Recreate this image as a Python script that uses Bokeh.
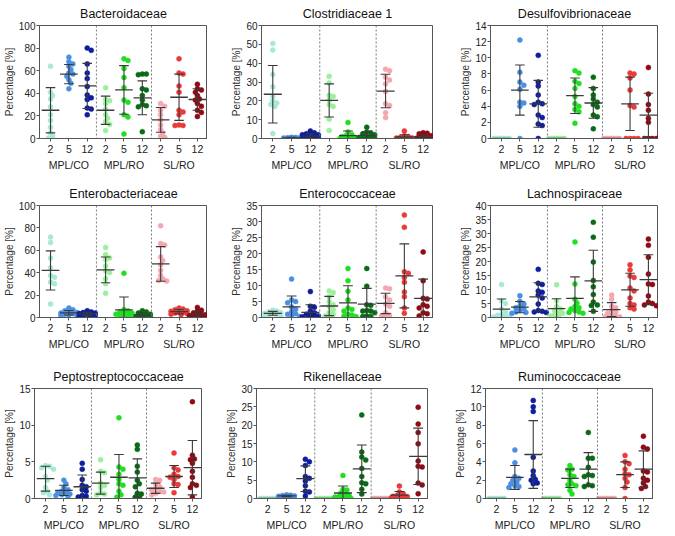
import numpy as np
from bokeh.plotting import figure
from bokeh.layouts import column, row
from bokeh.models import Range1d, FixedTicker, SingleIntervalTicker, Span, Spacer
from bokeh.embed import file_html
from bokeh.resources import INLINE

# ---------------- data ----------------
TIME_LABELS = ["2", "5", "12"]
GROUP_LABELS = ["MPL/CO", "MPL/RO", "SL/RO"]
SERIES_COLORS = ["#a8e8d6", "#4a8fe2", "#0d1f9e",
                 "#9cef9c", "#22de22", "#0a6b16",
                 "#f5a6ae", "#ea3a3a", "#8e0b14"]

FAMILIES = ["Bacteroidaceae", "Clostridiaceae 1", "Desulfovibrionaceae",
            "Enterobacteriaceae", "Enterococcaceae", "Lachnospiraceae",
            "Peptostreptococcaceae", "Rikenellaceae", "Ruminococcaceae"]
Y_MAX = [100, 60, 14, 100, 35, 40, 15, 30, 12]
Y_STEP = [20, 10, 2, 20, 5, 5, 5, 5, 2]

BACTEROIDACEAE = [
    [64, 41, 38, 35, 28, 21, 16, 10, 5, 2, 0.5],
    [72, 68, 66, 64, 61, 58, 57, 55, 52, 49, 44],
    [80, 78, 66, 58, 53, 46, 38.5, 36, 34.5, 27, 26, 21],
    [45, 34.5, 33.5, 31, 26, 21, 18, 15, 12.5, 7],
    [70.5, 69, 62, 54, 45, 34, 32, 21, 19, 4],
    [57, 57, 56.5, 44, 43, 38, 34, 30, 29, 28, 6],
    [31, 28.5, 25, 21, 16.5, 12, 8, 5, 2, 1],
    [70.5, 58, 57, 46.5, 41, 25, 23.5, 21, 12, 11.5, 11.5],
    [48, 44, 43, 41, 38, 35, 34, 31, 28.5, 25, 23, 19.5],
]
BACTEROIDACEAE_MEAN = [25, 57, 46.5, 25, 43, 36, 16.5, 36.5, 34.5]
BACTEROIDACEAE_SD = [20, 8.5, 20, 12.5, 21.5, 15, 11, 20.5, 9.5]

CLOSTRIDIACEAE = [
    [50.5, 47, 34, 27.5, 22.3, 20, 18.8, 18, 17, 2.6],
    [0.6, 0.5, 0.4, 0.3, 0.2, 0.2, 0.1, 0.1, 0, 0],
    [4, 3, 2.5, 2, 2, 1.5, 1, 0.8, 0.5, 0.3, 0.2],
    [33, 29.5, 23, 22.3, 20.5, 18, 17, 10.3, 4.3],
    [8.5, 3.5, 2, 1.5, 1, 0.5, 0.3, 0.2, 0, 0],
    [6, 3.5, 3, 2.5, 2, 1, 0.5, 0.3, 0.2, 0.1],
    [36.8, 36, 32.5, 31, 29, 25, 18.5, 17.5, 13.7, 11.1],
    [4, 1.5, 1, 0.5, 0.3, 0.2, 0.1, 0, 0, 0],
    [3, 2.8, 2.5, 1.5, 1, 0.5, 0.3, 0.1, 0.1, 0],
]
CLOSTRIDIACEAE_MEAN = [23.5, 0.3, 1.3, 20.2, 1.5, 1.7, 25.2, 0.8, 1.0]
CLOSTRIDIACEAE_SD = [15.3, 0.3, 1.2, 8.8, 2.5, 1.8, 8.9, 1.2, 1.1]

DESULFOVIBRIONACEAE = [
    [0, 0, 0, 0, 0, 0, 0, 0, 0, 0],
    [12.2, 8.2, 7.0, 6.6, 6.1, 4.5, 4.4, 4.0, 0],
    [10.3, 7.0, 6.5, 5.4, 4.5, 4.3, 4.2, 2.9, 2.6, 1.8, 1.6, 0],
    [0, 0, 0, 0, 0, 0, 0, 0, 0, 0],
    [8.4, 8.1, 7.1, 6.8, 6.2, 5.2, 4.3, 4.0, 3.6, 3.3, 1.9],
    [7.6, 6.2, 5.4, 4.9, 4.5, 4.2, 3.9, 2.9, 2.7, 1.2],
    [0, 0, 0, 0, 0, 0, 0, 0, 0, 0],
    [8.1, 8.0, 7.5, 6.0, 4.1, 3.9, 0, 0, 0, 0],
    [8.8, 5.5, 4.2, 3.5, 2.5, 2.0, 0, 0, 0, 0],
]
DESULFOVIBRIONACEAE_MEAN = [0, 6.0, 4.3, 0, 5.3, 4.4, 0, 4.3, 2.9]
DESULFOVIBRIONACEAE_SD = [0, 3.1, 2.9, 0, 2.2, 1.9, 0, 3.3, 2.7]

ENTEROBACTERIACEAE = [
    [71.8, 67, 53, 44.5, 37.4, 36, 31.6, 30.2, 12],
    [8.5, 7, 6, 5, 4.5, 4, 3.5, 3, 2.5, 2, 1.5],
    [6, 5, 4.5, 4, 3.5, 3, 2.5, 2, 2, 1.5, 1],
    [62.6, 56, 53.2, 51.7, 46, 41.7, 40.2, 34.5, 30.2, 21.6],
    [39.5, 7, 6, 5, 4, 3.5, 3, 2.5, 2, 1.5, 1],
    [6, 5, 4, 3, 2, 1.5, 1, 0.5, 0.3, 0.2],
    [81.9, 66, 64.7, 54, 51, 47, 42, 37.4, 34.5, 33, 32.5],
    [8.5, 7.5, 7, 6, 5.5, 5, 4.5, 4, 3.5, 3, 2.5],
    [9, 6.5, 5.5, 4, 3, 2.5, 2, 1.5, 1, 0.5, 0.3],
]
ENTEROBACTERIACEAE_MEAN = [42, 4.2, 3.2, 42.5, 6.8, 2.3, 47.8, 5.2, 3.2]
ENTEROBACTERIACEAE_SD = [17.5, 2, 1.5, 11.5, 11.5, 2, 15.5, 2, 2.6]

ENTEROCOCCACEAE = [
    [2.3, 2.0, 1.8, 1.5, 1.3, 1.2, 1.0, 0.8, 0.5, 0.3],
    [12, 5.5, 5.0, 4.6, 3.3, 2.6, 1.8, 1.2, 1.0, 0.6, 0.3],
    [8.1, 3.5, 3.2, 2.0, 1.5, 1.0, 0.8, 0.5, 0.3, 0.2, 0.1],
    [8.3, 7.8, 6.5, 5.0, 4.0, 3.5, 2.5, 1.5, 1.0, 0.5, 0.3],
    [15.3, 11.5, 8.2, 5.5, 3.0, 2.5, 2.0, 1.0, 0.8, 0.5, 0.3],
    [15.3, 9.8, 4.0, 3.8, 2.2, 2.0, 2.0, 1.5, 0.5, 0.3, 0.3],
    [9.2, 9.0, 6.5, 5.5, 4.2, 3.5, 1.5, 0.8, 0.5, 0.3],
    [32, 28.2, 14.3, 13.8, 12.5, 11.0, 8.0, 6.5, 3.0, 1.3],
    [20.5, 11.5, 6.0, 5.8, 4.0, 3.5, 3.0, 1.5, 1.2, 0.5],
]
ENTEROCOCCACEAE_MEAN = [1.3, 3.3, 1.6, 3.6, 4.6, 4.2, 4.4, 13.0, 6.0]
ENTEROCOCCACEAE_SD = [0.6, 3.4, 2.4, 3.0, 5.3, 4.9, 3.2, 10.0, 6.0]

LACHNOSPIRACEAE = [
    [11.8, 6.0, 5.0, 3.0, 2.0, 1.0, 0.8, 0.5, 0.3, 0.2],
    [7.8, 5.8, 4.8, 4.0, 3.5, 3.0, 2.5, 2.0, 1.8, 1.5],
    [17.2, 12.2, 11.8, 9.5, 9.0, 8.0, 7.0, 4.8, 2.5, 2.2, 2.0, 1.8],
    [11.7, 6.0, 3.8, 3.0, 2.5, 1.8, 1.5, 1.0, 0.5, 0.3],
    [27, 12, 6.5, 5.2, 4.0, 3.5, 3.0, 2.5, 2.0, 1.8, 1.5],
    [34, 28.7, 19.8, 13.2, 11.0, 8.2, 5.5, 4.5, 4.3, 2.2],
    [8.0, 6.5, 4.0, 3.5, 2.5, 2.0, 1.5, 1.0, 0.5, 0.3, 0.2],
    [18.8, 17.0, 14.8, 14.3, 10.5, 9.5, 7.0, 5.0, 4.5, 3.5, 3.0],
    [28, 25.8, 21.5, 15.5, 12.0, 11.8, 7.7, 5.5, 5.0, 4.5, 4.2],
]
LACHNOSPIRACEAE_MEAN = [3.0, 3.7, 7.4, 3.2, 6.8, 13.1, 2.8, 9.9, 13.5]
LACHNOSPIRACEAE_SD = [3.6, 2.0, 5.0, 3.5, 7.7, 10.9, 2.5, 5.9, 8.9]

PEPTOSTREPTOCOCCACEAE = [
    [4.5, 4.4, 4.2, 4.0, 3.0, 2.5, 1.5, 1.0, 0.8, 0.5],
    [2.5, 2.0, 1.5, 1.2, 1.0, 0.8, 0.7, 0.6, 0.5, 0.4, 0.3],
    [4.8, 4.0, 2.6, 1.8, 1.6, 1.2, 1.0, 0.4, 0.3, 0.2],
    [5.3, 3.7, 3.5, 2.1, 1.8, 1.5, 0.8, 0.6, 0.5],
    [11.0, 4.3, 4.0, 3.3, 2.6, 2.0, 1.8, 1.0, 0.5, 0.2],
    [7.3, 6.7, 4.4, 3.6, 2.5, 2.0, 1.6, 0.7, 0.6, 0.2, 0.1],
    [2.6, 2.5, 2.0, 1.6, 1.4, 1.2, 1.0, 0.9, 0.7, 0.5],
    [6.2, 4.2, 3.9, 3.3, 3.0, 2.9, 2.6, 2.0, 1.9, 0.8],
    [13.2, 5.9, 5.4, 5.3, 4.8, 3.7, 2.9, 2.0, 1.8, 1.5, 0.2],
]
PEPTOSTREPTOCOCCACEAE_MEAN = [2.7, 1.1, 1.6, 2.1, 2.9, 2.8, 1.4, 3.0, 4.2]
PEPTOSTREPTOCOCCACEAE_SD = [1.7, 0.7, 1.6, 1.5, 3.1, 2.6, 0.7, 1.5, 3.7]

RIKENELLACEAE = [
    [0, 0, 0, 0, 0, 0, 0, 0, 0],
    [1.0, 0.9, 0.8, 0.7, 0.6, 0.6, 0.5, 0.5, 0.4, 0.3],
    [10.7, 10.0, 9.0, 6.0, 5.5, 4.8, 3.5, 2.0, 1.8, 0.7],
    [0, 0, 0, 0, 0, 0, 0, 0, 0],
    [6.3, 2.5, 2.3, 1.5, 1.2, 0.9, 0.6, 0.4, 0.3, 0.2, 0.1],
    [22.8, 12.7, 11.3, 10.5, 8.2, 6.0, 4.3, 4.0, 2.5, 1.2],
    [0, 0, 0, 0, 0, 0, 0, 0, 0],
    [3.4, 1.8, 1.3, 0.9, 0.6, 0.5, 0.4, 0.3, 0.2, 0.1],
    [24.9, 20.3, 18.0, 14.9, 10.2, 8.8, 8.6, 4.2, 3.7, 1.3],
]
RIKENELLACEAE_MEAN = [0, 0.7, 5.4, 0, 1.5, 8.1, 0, 0.9, 11.5]
RIKENELLACEAE_SD = [0, 0.2, 3.5, 0, 1.9, 6.5, 0, 1.0, 7.7]

RUMINOCOCCACEAE = [
    [0, 0, 0, 0, 0, 0, 0, 0, 0],
    [5.3, 3.9, 2.4, 2.2, 2.0, 1.8, 1.6, 1.4, 1.3, 1.2],
    [10.7, 10.0, 9.5, 4.5, 3.0, 2.5, 2.1, 2.0, 1.7, 1.6],
    [0, 0, 0, 0, 0, 0, 0, 0, 0],
    [3.6, 3.2, 3.1, 2.6, 2.4, 2.0, 1.6, 1.5, 1.4, 0.9, 0.5],
    [7.2, 4.4, 4.4, 3.4, 2.6, 2.5, 2.4, 1.5, 1.4, 1.3],
    [0, 0, 0, 0, 0, 0, 0, 0, 0],
    [4.7, 4.0, 3.8, 3.2, 2.7, 2.6, 2.2, 1.8, 1.2, 0.0],
    [6.8, 5.6, 5.4, 3.0, 2.9, 2.2, 2.0, 1.7, 1.3, 1.1],
]
RUMINOCOCCACEAE_MEAN = [0, 2.3, 4.8, 0, 2.2, 3.2, 0, 2.6, 3.2]
RUMINOCOCCACEAE_SD = [0, 1.3, 3.7, 0, 1.0, 1.8, 0, 1.4, 2.0]

PANEL_POINTS = [BACTEROIDACEAE, CLOSTRIDIACEAE, DESULFOVIBRIONACEAE,
                ENTEROBACTERIACEAE, ENTEROCOCCACEAE, LACHNOSPIRACEAE,
                PEPTOSTREPTOCOCCACEAE, RIKENELLACEAE, RUMINOCOCCACEAE]
PANEL_MEANS = [BACTEROIDACEAE_MEAN, CLOSTRIDIACEAE_MEAN, DESULFOVIBRIONACEAE_MEAN,
               ENTEROBACTERIACEAE_MEAN, ENTEROCOCCACEAE_MEAN, LACHNOSPIRACEAE_MEAN,
               PEPTOSTREPTOCOCCACEAE_MEAN, RIKENELLACEAE_MEAN, RUMINOCOCCACEAE_MEAN]
PANEL_SDS = [BACTEROIDACEAE_SD, CLOSTRIDIACEAE_SD, DESULFOVIBRIONACEAE_SD,
             ENTEROBACTERIACEAE_SD, ENTEROCOCCACEAE_SD, LACHNOSPIRACEAE_SD,
             PEPTOSTREPTOCOCCACEAE_SD, RIKENELLACEAE_SD, RUMINOCOCCACEAE_SD]

# ---------------- layout ----------------
FONT = "Liberation Sans"
AX_COLOR = "#555555"
X_START, X_END = -0.6, 8.55
COL_LAYOUT = [(34, 168), (37, 172), (47, 168)]              # border left, frame width
COL_GAPS = [17, 10]                                        # spacer after col 1, col 2
ROW_LAYOUT = [(22, 113, 32), (31, 112, 32), (35, 110, 32)]  # border top, frame height, border bottom
DOT = 5.0
MEAN_HALF = 0.48
CAP_HALF = 0.26


def swarm_offsets(vals, px_per_y, px_per_x, d=3.8, step=2.0, kmax=4):
    vals = np.asarray(vals, dtype=float)
    order = np.argsort(-vals, kind="stable")
    cands = [0.0]
    for k in range(1, kmax + 1):
        cands += [k * step, -k * step]
    placed = []
    offs = np.zeros(len(vals))
    for i in order:
        y = vals[i] * px_per_y
        chosen, best_c, best_d = None, 0.0, -1.0
        for c in cands:
            md = min((np.hypot(c - px, y - py) for px, py in placed), default=1e9)
            if md >= d:
                chosen = c
                break
            if md > best_d:
                best_d, best_c = md, c
        if chosen is None:
            chosen = best_c
        placed.append((chosen, y))
        offs[i] = chosen / px_per_x
    return offs


def tick_text(i):
    t, g = i % 3, i // 3
    if t == 1:
        return TIME_LABELS[t] + "\n" + GROUP_LABELS[g]
    return TIME_LABELS[t]


def make_panel(k):
    r, c = divmod(k, 3)
    bl, fw = COL_LAYOUT[c]
    bt, fh, bb = ROW_LAYOUT[r]
    ymax = Y_MAX[k]
    p = figure(frame_width=fw, frame_height=fh, output_backend="svg", toolbar_location=None,
               x_range=Range1d(X_START, X_END), y_range=Range1d(0, ymax),
               min_border_left=bl, min_border_right=0,
               min_border_top=bt, min_border_bottom=bb, title=FAMILIES[k])
    p.title.align = "center"
    p.title.text_font = FONT
    p.title.text_font_size = "12.5px"
    p.title.text_font_style = "normal"
    p.title.text_color = "#111111"
    p.title.standoff = 9
    p.xgrid.visible = False
    p.ygrid.visible = False
    p.outline_line_color = AX_COLOR
    p.outline_line_width = 1
    p.background_fill_color = "white"
    p.border_fill_color = "white"

    # x axis: time labels with group label under the middle one
    xa = p.xaxis[0]
    xa.ticker = FixedTicker(ticks=list(range(9)))
    xa.major_label_overrides = {i: tick_text(i) for i in range(9)}
    xa.minor_tick_line_color = None
    xa.minor_tick_out = 0
    xa.major_tick_in = 0
    xa.major_tick_out = 3
    xa.major_label_standoff = 1
    xa.major_label_text_font = FONT
    xa.major_label_text_font_size = "10.5px"
    xa.major_label_text_line_height = 1.4
    xa.major_label_text_color = "#222222"
    xa.axis_line_color = AX_COLOR
    xa.major_tick_line_color = AX_COLOR

    ya = p.yaxis[0]
    ya.ticker = SingleIntervalTicker(interval=Y_STEP[k], num_minor_ticks=0)
    ya.minor_tick_line_color = None
    ya.minor_tick_out = 0
    ya.major_tick_in = 0
    ya.major_tick_out = 3
    ya.major_label_standoff = 1
    ya.major_label_text_font = FONT
    ya.major_label_text_font_size = "10px"
    ya.major_label_text_color = "#222222"
    ya.axis_line_color = AX_COLOR
    ya.major_tick_line_color = AX_COLOR
    ya.axis_label = "Percentage [%]"
    ya.axis_label_text_font = FONT
    ya.axis_label_text_font_size = "10px"
    ya.axis_label_text_font_style = "normal"
    ya.axis_label_text_color = "#333333"
    ya.axis_label_standoff = 1

    for loc in (2.5, 5.5):
        p.add_layout(Span(location=loc, dimension="height", line_color="#7a7a7a",
                          line_dash="2 2", line_width=1))

    px_per_x = fw / (X_END - X_START)
    px_per_y = fh / ymax

    for i, vals in enumerate(PANEL_POINTS[k]):
        offs = swarm_offsets(vals, px_per_y, px_per_x)
        xs = i + offs
        p.scatter(xs, vals, size=DOT, marker="circle", fill_color=SERIES_COLORS[i],
                  line_color=SERIES_COLORS[i], line_width=0.5)

    means = np.asarray(PANEL_MEANS[k], dtype=float)
    sds = np.asarray(PANEL_SDS[k], dtype=float)
    xpos = np.arange(9, dtype=float)
    err_color = "#3a3a3a"
    p.segment(xpos - MEAN_HALF, means, xpos + MEAN_HALF, means, line_color=err_color, line_width=1.3)
    has = sds > 0
    xe, me, se = xpos[has], means[has], sds[has]
    p.segment(xe, me - se, xe, me + se, line_color=err_color, line_width=1.1)
    p.segment(xe - CAP_HALF, me + se, xe + CAP_HALF, me + se, line_color=err_color, line_width=1.1)
    p.segment(xe - CAP_HALF, me - se, xe + CAP_HALF, me - se, line_color=err_color, line_width=1.1)
    return p


panels = [make_panel(k) for k in range(9)]
rows = []
for r in range(3):
    a, b, c = panels[3 * r:3 * r + 3]
    rows.append(row(a, Spacer(width=COL_GAPS[0]), b, Spacer(width=COL_GAPS[1]), c))
layout = column(*rows)

open("out.html", "w").write(file_html(layout, INLINE))
